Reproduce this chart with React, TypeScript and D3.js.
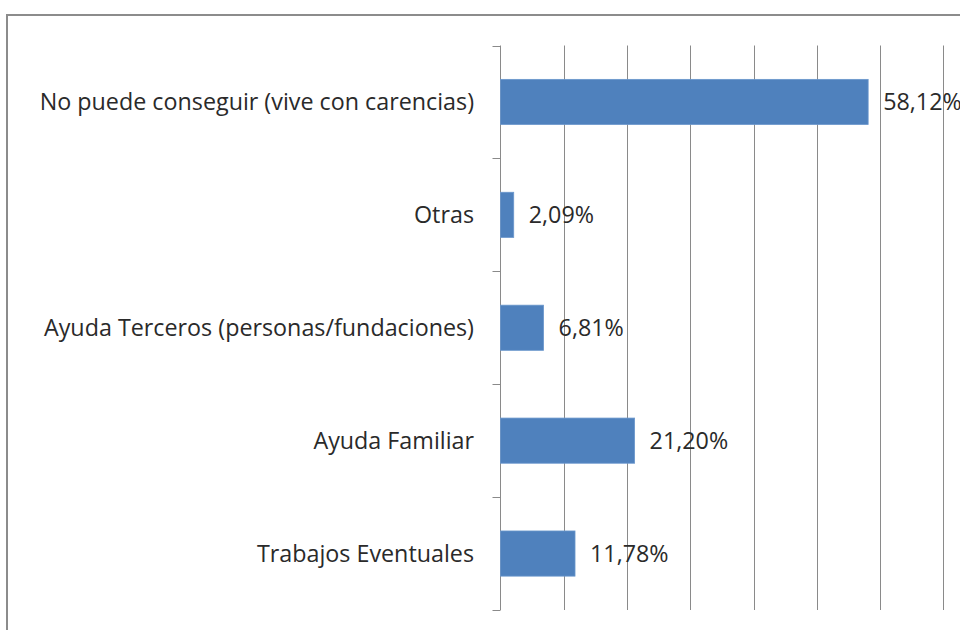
import * as d3 from 'd3'
import { useEffect, useRef } from 'react'

const categories = [
  'No puede conseguir (vive con carencias)',
  'Otras',
  'Ayuda Terceros (personas/fundaciones)',
  'Ayuda Familiar',
  'Trabajos Eventuales',
]
const values = [58.12, 2.09, 6.81, 21.2, 11.78]
const gridTicks = [0, 10, 20, 30, 40, 50, 60, 70]

const App = () => {
  const ref = useRef<SVGSVGElement | null>(null)

  useEffect(() => {
    if (!ref.current) return
    const svg = d3.select(ref.current)
    svg.selectAll('*').remove()

    const width = 960
    const height = 630
    const left = 500.5
    const top = 45.5
    const bottom = 610

    svg.append('rect').attr('width', width).attr('height', height).attr('fill', '#fff')

    // outer frame (runs off the right and bottom edges)
    svg
      .append('rect')
      .attr('x', 7)
      .attr('y', 15)
      .attr('width', 1000)
      .attr('height', 700)
      .attr('fill', 'none')
      .attr('stroke', '#8c8c8c')
      .attr('stroke-width', 2)

    const x = d3.scaleLinear().domain([0, 70]).range([left, 943.3])
    const y = d3.scaleBand<string>().domain(categories).range([top, bottom]).paddingInner(0.6).paddingOuter(0.3)
    const yEdges = d3.scaleBand<string>().domain(categories).range([top, bottom])

    const g = svg.append('g')

    // vertical gridlines
    g.selectAll('line.grid')
      .data(gridTicks.slice(1))
      .enter()
      .append('line')
      .attr('class', 'grid')
      .attr('x1', (d) => Math.round(x(d)) + 0.5)
      .attr('x2', (d) => Math.round(x(d)) + 0.5)
      .attr('y1', top)
      .attr('y2', bottom)
      .attr('stroke', '#8a8a8a')
      .attr('stroke-width', 1)

    // category axis
    g.append('line')
      .attr('x1', left)
      .attr('x2', left)
      .attr('y1', top)
      .attr('y2', bottom)
      .attr('stroke', '#8a8a8a')

    const edges = categories.map((c) => yEdges(c) as number).concat([bottom])
    g.selectAll('line.tick')
      .data(edges)
      .enter()
      .append('line')
      .attr('class', 'tick')
      .attr('x1', left - 8)
      .attr('x2', left)
      .attr('y1', (d) => Math.round(d) + 0.5)
      .attr('y2', (d) => Math.round(d) + 0.5)
      .attr('stroke', '#8a8a8a')

    // bars
    g.selectAll('rect.bar')
      .data(values)
      .enter()
      .append('rect')
      .attr('class', 'bar')
      .attr('x', left)
      .attr('y', (_d, i) => y(categories[i]) as number)
      .attr('width', (d) => x(d) - left)
      .attr('height', y.bandwidth())
      .attr('fill', '#4f81bd')
      .attr('stroke', '#6b97cc')
      .attr('stroke-width', 0.8)

    const font = '"Open Sans", sans-serif'

    // category labels
    g.selectAll('text.cat')
      .data(categories)
      .enter()
      .append('text')
      .attr('class', 'cat')
      .attr('x', 474)
      .attr('y', (d) => (y(d) as number) + y.bandwidth() / 2)
      .attr('dy', '0.35em')
      .attr('text-anchor', 'end')
      .style('font-family', font)
      .style('font-size', '23.3px')
      .attr('fill', '#2a2a2a')
      .text((d) => d)

    // value labels
    g.selectAll('text.val')
      .data(values)
      .enter()
      .append('text')
      .attr('class', 'val')
      .attr('x', (d) => x(d) + 15)
      .attr('y', (_d, i) => (y(categories[i]) as number) + y.bandwidth() / 2)
      .attr('dy', '0.35em')
      .style('font-family', font)
      .style('font-size', '23.3px')
      .attr('fill', '#2a2a2a')
      .text((d) => d.toFixed(2).replace('.', ',') + '%')
  }, [])

  return (
    <div>
      <svg
        ref={ref}
        width={960}
        height={630}
        style={{ display: 'block', position: 'fixed', left: 0, top: 0 }}
      />
    </div>
  )
}

export default App
